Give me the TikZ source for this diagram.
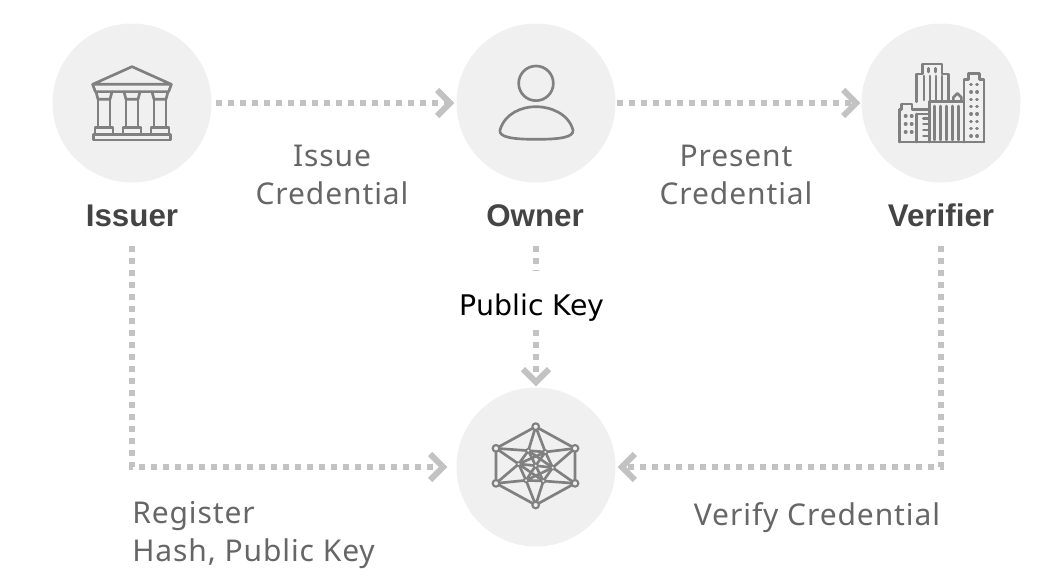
\documentclass[tikz,border=0pt]{standalone}
\usepackage{fontspec}
\setmainfont{Noto Sans}
\newfontfamily\dejavu{DejaVu Sans}
\newfontfamily\labf[LetterSpace=3]{Noto Sans}
\newfontfamily\headf{Liberation Sans}
\usetikzlibrary{calc}
\definecolor{disc}{HTML}{F0F0F0}
\definecolor{dotc}{HTML}{C2C2C2}
\definecolor{ico}{HTML}{808080}
\definecolor{txt}{HTML}{666666}
\definecolor{head}{HTML}{444444}
\tikzset{
  x=0.75pt,y=-0.75pt,
  disc/.style={circle,fill=disc,minimum size=119.25pt,inner sep=0pt},
  title/.style={font=\headf\bfseries\fontsize{23.5}{26}\selectfont,text=head,inner sep=0pt,anchor=base},
  lab/.style={font=\labf\fontsize{22.5}{28}\selectfont,text=txt,inner sep=0pt,align=center},
  conn/.style={draw=dotc,line width=4.5pt,dash pattern=on 4.5pt off 4.5pt},
  tip/.style={draw=dotc,line width=4.5pt,miter limit=6},
  icon/.style={draw=ico,line width=2pt,line join=round,line cap=round,fill=none}
}
\begin{document}
\begin{tikzpicture}
\useasboundingbox (0,0) rectangle (1060,588);
\node[disc] (issuer) at (132,103) {};
\node[disc] (owner) at (536,103) {};
\node[disc] (verifier) at (941,103) {};
\node[disc] (net) at (536,467) {};
\node[title] (tissuer) at (132,226) {Issuer};
\node[title] (towner) at (535,226) {Owner};
\node[title] (tverifier) at (941,226) {Verifier};
\node[lab] (l1) at (332,175) {Issue\\Credential};
\node[lab] (l2) at (736,175) {Present\\Credential};
\node[lab,align=left,anchor=west] (l3) at (132,535) {Register\\Hash, Public Key};
\node[lab] (l4) at (817,518) {Verify Credential};
% connectors
\coordinate (a1) at ($(issuer.east)+(4,0)$);
\coordinate (a2) at ($(owner.west)+(-7,0)$);
\coordinate (b1) at ($(owner.east)+(1,0)$);
\coordinate (b2) at ($(verifier.west)+(-6,0)$);
\coordinate (c1) at (132,246);
\coordinate (c2) at ($(net.west)+(-14,0)$);
\coordinate (d1) at (941,246);
\coordinate (d2) at ($(net.east)+(7,0)$);
\coordinate (e1) at (536,246);
\coordinate (e2) at ($(net.north)+(0,-7)$);
\draw[conn] (a1) -- (a2);
\draw[conn] (b1) -- (b2);
\draw[conn] (c1) |- (c2);
\draw[conn] (d1) |- (d2);
\draw[conn] (e1) -- (e2);
\draw[tip] ($(a2)+(-12,-13)$) -- ($(a2)+(1,0)$) -- ($(a2)+(-12,13)$);
\draw[tip] ($(b2)+(-12,-13)$) -- ($(b2)+(1,0)$) -- ($(b2)+(-12,13)$);
\draw[tip] ($(c2)+(-12,-13)$) -- ($(c2)+(1,0)$) -- ($(c2)+(-12,13)$);
\draw[tip] ($(d2)+(12,-13)$) -- ($(d2)+(-1,0)$) -- ($(d2)+(12,13)$);
\draw[tip] ($(e2)+(-13,-11)$) -- ($(e2)+(0,2)$) -- ($(e2)+(13,-11)$);
\node[fill=white,anchor=base,inner xsep=3pt,inner ysep=0pt,text height=33pt,text depth=11pt,font=\dejavu\fontsize{21.3}{25}\selectfont,text=black] (lpk) at (532,315) {Public Key};
% issuer icon
\begin{scope}[shift={(40,40)},x=0.25pt,y=-0.25pt]
\draw[icon] (158,133) -- (276,80) -- (394,133) -- cycle;
\draw[icon] (158,133) -- (166,155) -- (386,155) -- (394,133);
\draw[icon] (160,283) rectangle (392,300);
\foreach \c in {192,276,360}{
 \draw[icon] (\c-24,155) -- (\c-18,178) -- (\c+18,178) -- (\c+24,155);
 \draw[icon] (\c-18,178) -- (\c-18,262) (\c+18,178) -- (\c+18,262);
 \draw[icon] (\c-27,283) -- (\c-27,262) -- (\c+27,262) -- (\c+27,283);
}
\end{scope}
% owner icon
\begin{scope}[shift={(450,50)},x=0.25pt,y=-0.25pt]
\draw[icon] (258,100) circle[radius=52];
\draw[icon] (150,240) .. controls (165,190) and (215,170) .. (258,170) .. controls (300,170) and (355,190) .. (369,240) .. controls (372,262) and (330,268) .. (258,268) .. controls (190,268) and (145,262) .. (150,240) -- cycle;
\end{scope}
% verifier icon
\begin{scope}[shift={(850,50)},x=0.25pt,y=-0.25pt]
\draw[icon] (200,155) -- (200,72) -- (218,72) -- (218,42) -- (276,42) -- (276,72) -- (295,72) -- (295,155);
\draw[icon] (148,276) -- (402,276);
\draw[icon] (148,276) -- (148,178) -- (155,178) -- (155,162) -- (186,162) -- (186,178) -- (238,178);
\draw[icon] (238,276) -- (238,155) -- (342,155) -- (342,276);
\draw[icon] (342,276) -- (342,88) -- (355,88) -- (355,70) -- (388,70) -- (388,88) -- (402,88) -- (402,276);
\draw[icon] (310,155) -- (310,142) -- (322,130) -- (334,142) -- (334,155);
\draw[icon] (200,192) -- (238,192) (200,192) -- (200,276);
\foreach \xx in {222,240,258,276}{\draw[icon] (\xx,78) -- (\xx,150);}
\draw[icon] (236,55) -- (236,66) (256,55) -- (256,66);
\foreach \xx in {254,272,290,308,326}{\draw[icon] (\xx,168) -- (\xx,270);}
\foreach \yy in {205,222,240,258}{\draw[icon] (220,\yy) -- (236,\yy);}
\foreach \yy in {104,126,148,170,192,214,236,258}{
 \draw[icon,line width=2.4pt] (362,\yy) -- (364,\yy) (380,\yy) -- (382,\yy);}
\foreach \yy in {198,222,246}{
 \draw[icon,line width=2.4pt] (166,\yy) -- (168,\yy) (184,\yy) -- (186,\yy);}
\end{scope}
% network icon
\begin{scope}[shift={(490,420)},x=0.25pt,y=-0.25pt]
\coordinate (A) at (137,20);
\coordinate (B) at (255,85);
\coordinate (C) at (255,190);
\coordinate (D) at (137,255);
\coordinate (E) at (18,190);
\coordinate (F) at (18,85);
\coordinate (g) at (115,92);
\coordinate (h) at (166,96);
\coordinate (i) at (188,143);
\coordinate (j) at (160,183);
\coordinate (k) at (108,181);
\coordinate (l) at (86,132);
\coordinate (m) at (137,137);
\draw[icon] (A)--(B)--(C)--(D)--(E)--(F)--cycle;
\draw[icon] (F)--(g)--(h)--(B) (E)--(k)--(j)--(C);
\draw[icon] (A)--(g)--(l) (A)--(h)--(i) (D)--(k)--(l) (D)--(j)--(i);
\draw[icon] (F)--(l)--(j) (E)--(l)--(h) (C)--(i)--(g) (B)--(i)--(k);
\draw[icon] (l)--(m)--(i) (g)--(m)--(j) (h)--(m)--(k);
\foreach \n in {A,B,C,D,E,F}{\draw[icon,fill=disc,line width=1.6pt] (\n) circle[radius=10];}
\foreach \n in {g,h,i,j,k,l,m}{\draw[icon,fill=disc,line width=1.2pt] (\n) circle[radius=6];}
\end{scope}
\end{tikzpicture}
\end{document}
